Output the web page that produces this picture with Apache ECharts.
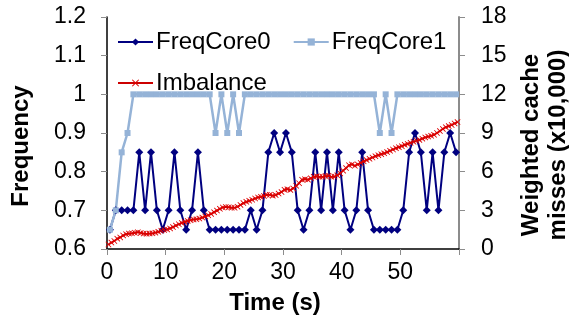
<!DOCTYPE html>
<html>
<head>
<meta charset="utf-8">
<script src="https://cdn.jsdelivr.net/npm/echarts@6/dist/echarts.min.js"></script>
<style>
  html, body { margin: 0; padding: 0; background: #fff; }
  #chart { width: 569px; height: 325px; }
</style>
</head>
<body>
<div id="chart"></div>
<script>
// frequency of each core, one sample per second
const FREQ_CORE0 = [
  0.65, 0.70, 0.70, 0.70, 0.70, 0.85, 0.70, 0.85, 0.70, 0.65,
  0.70, 0.85, 0.70, 0.65, 0.70, 0.85, 0.70, 0.65, 0.65, 0.65,
  0.65, 0.65, 0.65, 0.65, 0.70, 0.65, 0.70, 0.85, 0.90, 0.85,
  0.90, 0.85, 0.70, 0.65, 0.70, 0.85, 0.70, 0.85, 0.70, 0.85,
  0.70, 0.65, 0.70, 0.85, 0.70, 0.65, 0.65, 0.65, 0.65, 0.65,
  0.70, 0.85, 0.90, 0.85, 0.70, 0.85, 0.70, 0.85, 0.90, 0.85
];
const FREQ_CORE1 = [
  0.65, 0.70, 0.85, 0.90, 1, 1, 1, 1, 1, 1,
  1, 1, 1, 1, 1, 1, 1, 1, 0.9, 1,
  0.9, 1, 0.9, 1, 1, 1, 1, 1, 1, 1,
  1, 1, 1, 1, 1, 1, 1, 1, 1, 1,
  1, 1, 1, 1, 1, 1, 0.9, 1, 0.9, 1,
  1, 1, 1, 1, 1, 1, 1, 1, 1, 1
];
// weighted cache misses (x10,000), two samples per second
const IMBALANCE = [
  0.35, 0.5, 0.62, 0.8, 0.9, 1.05, 1.15, 1.2, 1.22, 1.26,
  1.3, 1.25, 1.2, 1.18, 1.2, 1.22, 1.27, 1.33, 1.42, 1.48,
  1.52, 1.6, 1.7, 1.82, 1.92, 2.02, 2.1, 2.18, 2.24, 2.29,
  2.31, 2.36, 2.44, 2.53, 2.62, 2.72, 2.86, 2.98, 3.12, 3.22,
  3.26, 3.24, 3.2, 3.2, 3.28, 3.42, 3.56, 3.66, 3.74, 3.82,
  3.92, 4.0, 4.05, 4.12, 4.2, 4.2, 4.14, 4.18, 4.3, 4.42,
  4.6, 4.64, 4.58, 4.7, 4.9, 5.1, 5.38, 5.42, 5.38, 5.48,
  5.6, 5.64, 5.6, 5.6, 5.66, 5.68, 5.6, 5.62, 5.72, 5.86,
  6.08, 6.28, 6.5, 6.56, 6.46, 6.56, 6.68, 6.8, 6.9, 7.0,
  7.1, 7.2, 7.28, 7.36, 7.42, 7.52, 7.62, 7.72, 7.82, 7.9,
  7.98, 8.08, 8.15, 8.24, 8.32, 8.4, 8.46, 8.56, 8.66, 8.72,
  8.78, 8.86, 9.0, 9.15, 9.32, 9.45, 9.54, 9.62, 9.74, 9.85
];
const FREQ_TIME = FREQ_CORE0.map((_, i) => i + 0.5);
const IMB_TIME = IMBALANCE.map((_, i) => i * 0.5 + 0.25);

const X_TICKS = [0, 10, 20, 30, 40, 50];

const pair = (xs, ys) => ys.map((y, i) => [xs[i], y]);

const crossPath = 'path://M0,1L1,0L5,4L9,0L10,1L6,5L10,9L9,10L5,6L1,10L0,9L4,5Z';

const chart = echarts.init(document.getElementById('chart'), null, { renderer: 'canvas' });

const font = 'Liberation Sans, Arial, sans-serif';
const tickStyle = { color: '#8c8c8c', width: 1 };

chart.setOption({
  animation: false,
  backgroundColor: '#fff',
  textStyle: { fontFamily: font },
  grid: { left: 107, right: 110, top: 17, bottom: 76, containLabel: false, outerBoundsMode: 'none' },
  legend: [
    {
      data: ['FreqCore0', 'FreqCore1'],
      left: 112, top: 25,
      itemWidth: 35, itemHeight: 9, itemGap: 22,
      textStyle: { fontSize: 24, color: '#000', fontFamily: font, padding: [0, 0, 0, -2] }
    },
    {
      data: ['Imbalance'],
      left: 112, top: 66,
      itemWidth: 35, itemHeight: 9,
      textStyle: { fontSize: 24, color: '#000', fontFamily: font, padding: [0, 0, 0, -2] }
    }
  ],
  xAxis: {
    type: 'value',
    min: 0, max: 60, interval: 10,
    name: 'Time (s)',
    nameLocation: 'middle',
    nameGap: 42,
    nameTextStyle: { fontSize: 24, fontWeight: 'bold', color: '#000', padding: [0, 16, 0, 0] },
    axisLine: { lineStyle: { color: '#000', width: 1.5 } },
    axisTick: { show: true, inside: false, length: 6, lineStyle: tickStyle },
    axisLabel: {
      fontSize: 23, color: '#000', margin: 12,
      formatter: v => (X_TICKS.includes(v) ? String(v) : '')
    },
    splitLine: { show: false }
  },
  yAxis: [
    {
      type: 'value',
      min: 0.6, max: 1.2, interval: 0.1,
      name: 'Frequency',
      nameLocation: 'middle',
      nameGap: 74,
      nameTextStyle: { fontSize: 24, fontWeight: 'bold', color: '#000', padding: [0, 26, 0, 0] },
      axisLine: { show: true, lineStyle: { color: '#000', width: 1.5 } },
      axisTick: { show: true, length: 6, lineStyle: tickStyle },
      axisLabel: { fontSize: 23, color: '#000', margin: 21 },
      splitLine: { show: false }
    },
    {
      type: 'value',
      position: 'right',
      min: 0, max: 18, interval: 3,
      name: 'Weighted cache\nmisses (x10,000)',
      nameLocation: 'middle',
      nameRotate: 90,
      nameGap: 54,
      nameTextStyle: { fontSize: 24, fontWeight: 'bold', color: '#000', lineHeight: 27, padding: [0, 24, 0, 0] },
      axisLine: { show: true, lineStyle: { color: '#8c8c8c', width: 2 } },
      axisTick: { show: true, length: 6, lineStyle: tickStyle },
      axisLabel: { fontSize: 23, color: '#000', margin: 22 },
      splitLine: { show: false }
    }
  ],
  series: [
    {
      name: 'FreqCore0',
      type: 'line',
      yAxisIndex: 0,
      data: pair(FREQ_TIME, FREQ_CORE0),
      symbol: 'diamond',
      symbolSize: 8,
      showAllSymbol: true,
      lineStyle: { color: '#000080', width: 2 },
      itemStyle: { color: '#000080' }
    },
    {
      name: 'FreqCore1',
      type: 'line',
      yAxisIndex: 0,
      data: pair(FREQ_TIME, FREQ_CORE1),
      symbol: 'rect',
      symbolSize: 6,
      showAllSymbol: true,
      lineStyle: { color: '#95b3d7', width: 2.5 },
      itemStyle: { color: '#95b3d7' }
    },
    {
      name: 'Imbalance',
      type: 'line',
      yAxisIndex: 1,
      data: pair(IMB_TIME, IMBALANCE),
      symbol: crossPath,
      symbolSize: 6,
      showAllSymbol: true,
      lineStyle: { color: '#cc0000', width: 1.8 },
      itemStyle: { color: '#dd0000' }
    }
  ]
});
</script>
</body>
</html>
